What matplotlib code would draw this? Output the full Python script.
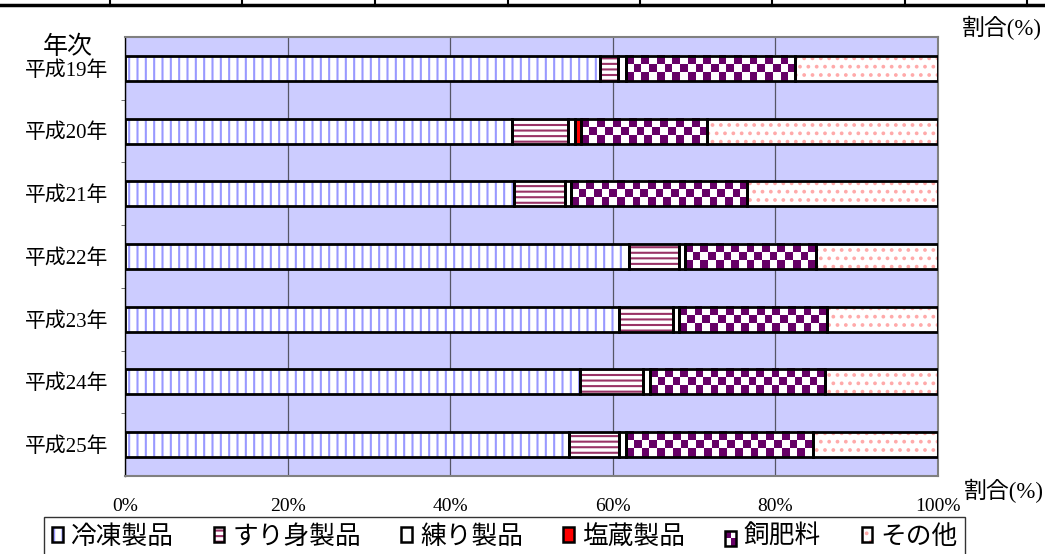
# 水産加工品の用途別割合（平成19年～25年）
import numpy as np
import matplotlib.pyplot as plt
from matplotlib.patches import Patch, Rectangle
from matplotlib.lines import Line2D
from matplotlib.legend_handler import HandlerTuple

plt.rcParams['font.family'] = ['Liberation Serif', 'Noto Sans CJK JP']
plt.rcParams['hatch.linewidth'] = 1.5

# ---------------- データ（割合 %） ----------------
years = ['平成19年', '平成20年', '平成21年', '平成22年', '平成23年', '平成24年', '平成25年']
series = ['冷凍製品', 'すり身製品', '練り製品', '塩蔵製品', '飼肥料', 'その他']
reitou = [58.4, 47.6, 47.8, 62.0, 60.8, 56.0, 54.6]
surimi = [2.2, 6.9, 6.3, 6.1, 6.6, 7.7, 6.2]
neri = [1.0, 0.9, 0.7, 0.8, 0.7, 0.9, 0.8]
enzo = [0.0, 0.7, 0.0, 0.0, 0.0, 0.0, 0.0]
shihi = [20.8, 15.5, 21.7, 16.1, 18.2, 21.5, 23.0]
sonota = [17.6, 28.4, 23.5, 15.0, 13.7, 13.9, 15.4]
values = [reitou, surimi, neri, enzo, shihi, sonota]
xticks = [0, 20, 40, 60, 80, 100]

PURPLE = '#660066'
# 塗り: (地色, ハッチ, ハッチ色)   None = チェック柄
fills = [('white', '||', '#9999FF'),
         ('white', '---', '#993366'),
         ('white', None, 'white'),
         ('#FF0000', None, '#FF0000'),
         None,
         ('white', '..', '#FFAAAA')]

BAR_H = 0.4


def checker(nrows, ncols):
    ii, jj = np.indices((nrows, ncols))
    mask = ((ii + jj) % 2 == 0)[..., None]
    purple = np.array([0x66, 0x00, 0x66]) / 255
    white = np.ones(3)
    return np.where(mask, purple, white)


class CheckerHandler:
    def legend_artist(self, legend, orig_handle, fontsize, handlebox):
        x0, y0 = handlebox.xdescent, handlebox.ydescent
        w, h = handlebox.width, handlebox.height
        tr = handlebox.get_transform()
        for i in range(2):
            for j in range(2):
                c = PURPLE if (i + j) % 2 == 1 else 'white'
                handlebox.add_artist(Rectangle((x0 + i * w / 2, y0 + j * h / 2), w / 2, h / 2,
                                               facecolor=c, edgecolor='none', transform=tr))
        frame = Rectangle((x0, y0), w, h, facecolor='none', edgecolor='black',
                          linewidth=1.8, transform=tr)
        handlebox.add_artist(frame)
        return frame


fig = plt.figure(figsize=(10.45, 5.54), dpi=100)
ax = fig.add_axes([0.1196, 0.1408, 0.7780, 0.7924])
ax.set_facecolor('#CCCCFF')

ypos = np.arange(len(years))
left = np.zeros(len(years))
for name, vals, fill in zip(series, values, fills):
    vals = np.array(vals)
    if fill is None:
        for y, l, w in zip(ypos, left, vals):
            ncols = max(1, int(round(w / 0.95)))
            ax.imshow(checker(3, ncols), extent=(l, l + w, y + BAR_H / 2, y - BAR_H / 2),
                      aspect='auto', interpolation='nearest', zorder=2)
    else:
        face, hatch, hc = fill
        ax.barh(ypos, vals, left=left, height=BAR_H, color=face, edgecolor=hc,
                linewidth=0, hatch=hatch, zorder=2)
    ax.barh(ypos, vals, left=left, height=BAR_H, facecolor='none',
            edgecolor='black', linewidth=2.0, zorder=3)
    left += vals

ax.set_xlim(0, 100)
ax.set_ylim(len(years) - 0.5, -0.5)

ax.set_xticks(xticks)
ax.set_xticklabels([f'{v}%' for v in xticks], fontsize=14)
ax.tick_params(axis='x', length=0, pad=16)
ax.set_yticks(ypos)
ax.set_yticklabels(years, fontsize=15)
ax.set_yticks(np.arange(0.5, len(years) - 1, 1), minor=True)
ax.tick_params(axis='y', which='major', length=0, pad=12)
ax.tick_params(axis='y', which='minor', length=3, color='#555555')

ax.set_axisbelow(True)
ax.grid(axis='x', color='#555566', linewidth=0.9)
for s in ['top', 'right', 'bottom']:
    ax.spines[s].set_color('#808080')
    ax.spines[s].set_linewidth(1.5)
ax.spines['left'].set_color('black')
ax.spines['left'].set_linewidth(1.0)

# 軸の見出し
fig.text(1042 / 1045, 1 - 28 / 554, '割合(%)', ha='right', va='center', fontsize=16.5)
fig.text(1044 / 1045, 1 - 491 / 554, '割合(%)', ha='right', va='center', fontsize=16.5)
fig.text(68 / 1045, 1 - 47 / 554, '年次', ha='center', va='center', fontsize=18)

# 上端の表の罫線
fig.add_artist(Line2D([0, 1], [1 - 4.5 / 554] * 2, transform=fig.transFigure,
                      color='black', linewidth=2.5))
for xd in [110, 242, 375, 508, 640, 772, 905, 1027]:
    fig.add_artist(Line2D([xd / 1045] * 2, [1, 1 - 6 / 554], transform=fig.transFigure,
                          color='black', linewidth=1.5))

# 凡例
handles = []
handler_map = {}
for name, fill in zip(series, fills):
    if fill is None:
        h = Patch(facecolor=PURPLE)
        handler_map[h] = CheckerHandler()
    else:
        face, hatch, hc = fill
        h = (Patch(facecolor=face, edgecolor=hc, linewidth=0, hatch=hatch),
             Patch(facecolor='none', edgecolor='black', linewidth=1.8))
    handles.append(h)
handler_map[tuple] = HandlerTuple(ndivide=1, pad=0)

leg = fig.legend(handles, series, handler_map=handler_map, ncol=6, fontsize=18.5,
                 loc='upper left', bbox_to_anchor=(44 / 1045, 0, 921 / 1045, 1 - 517 / 554),
                 bbox_transform=fig.transFigure, mode='expand', borderaxespad=0,
                 handlelength=0.42, handleheight=0.5, handletextpad=0.3,
                 columnspacing=1.0, borderpad=0.3, fancybox=False, framealpha=1)
leg.get_frame().set_edgecolor('#333333')
leg.get_frame().set_linewidth(1.0)

fig.savefig('out.png', dpi=100)
